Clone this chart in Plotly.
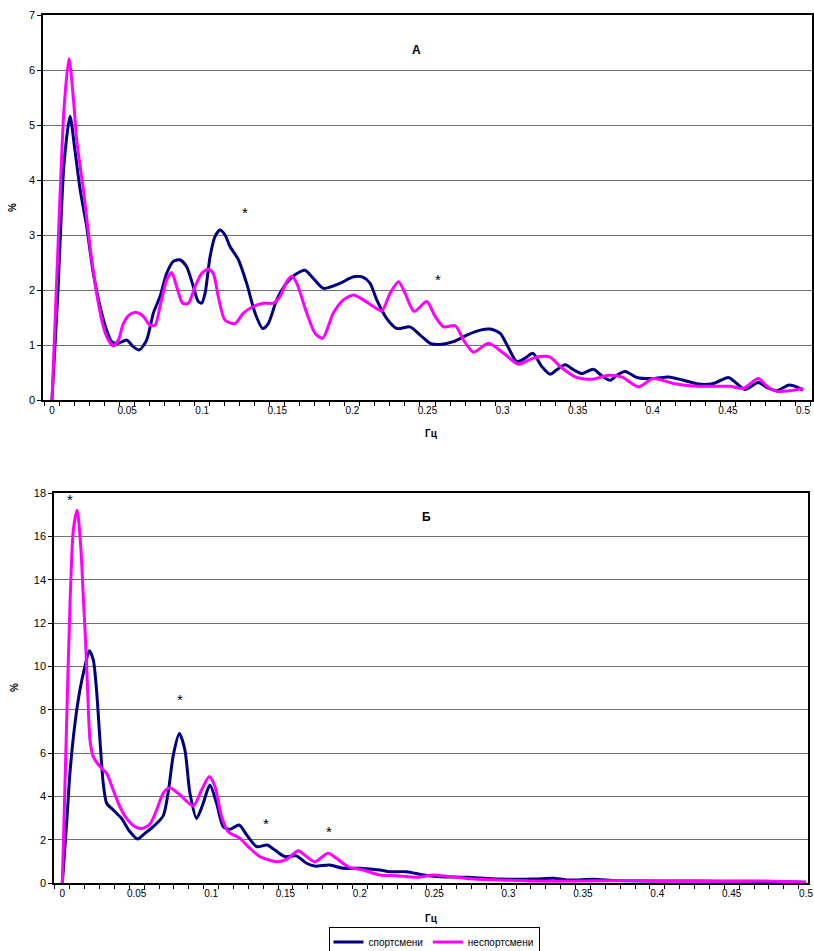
import plotly.graph_objects as go

# ---------------- Panel A data ----------------
a_sport_f = [0, 0.004, 0.008, 0.012, 0.015, 0.0186, 0.0231, 0.0275, 0.032, 0.0364, 0.0397, 0.0442,
             0.0497, 0.0541, 0.0581, 0.063, 0.0675, 0.0719, 0.0763, 0.0808, 0.0852, 0.0897, 0.0941,
             0.0974, 0.0996, 0.1019, 0.1052, 0.1085, 0.1119, 0.1152, 0.1185, 0.1241, 0.1296, 0.1352,
             0.1403, 0.144, 0.1496, 0.156, 0.162, 0.1684, 0.174, 0.1807, 0.1917, 0.2007, 0.2073,
             0.2118, 0.2162, 0.2229, 0.2296, 0.2384, 0.2451, 0.2518, 0.2584, 0.2673, 0.2762, 0.2851,
             0.2917, 0.2984, 0.3039, 0.3094, 0.315, 0.3201, 0.3261, 0.3316, 0.3361, 0.3416, 0.3472,
             0.3527, 0.3605, 0.3661, 0.3716, 0.376, 0.3816, 0.3894, 0.4005, 0.4105, 0.4204, 0.4304,
             0.4404, 0.4504, 0.4559, 0.4614, 0.4703, 0.4759, 0.4826, 0.4903, 0.4959, 0.5]
a_sport_v = [0, 2.0, 4.3, 5.16, 4.6, 3.85, 3.15, 2.3, 1.7, 1.27, 1.06, 1.03,
             1.09, 0.97, 0.91, 1.09, 1.58, 1.88, 2.3, 2.52, 2.55, 2.42, 2.06,
             1.79, 1.76, 1.94, 2.6, 2.97, 3.09, 3.0, 2.79, 2.55, 2.12, 1.58,
             1.3, 1.39, 1.82, 2.12, 2.28, 2.36, 2.21, 2.03, 2.12, 2.24, 2.23,
             2.12, 1.82, 1.48, 1.30, 1.33, 1.18, 1.03, 1.01, 1.06, 1.18, 1.27,
             1.29, 1.21, 0.95, 0.70, 0.76, 0.85, 0.61, 0.47, 0.55, 0.64, 0.55,
             0.48, 0.56, 0.44, 0.36, 0.45, 0.52, 0.41, 0.39, 0.42, 0.36, 0.29,
             0.30, 0.41, 0.30, 0.19, 0.32, 0.23, 0.17, 0.27, 0.24, 0.18]

a_non_f = [0, 0.004, 0.008, 0.0113, 0.0145, 0.0164, 0.0209, 0.0253, 0.0297, 0.0342, 0.0375, 0.0408,
           0.0442, 0.0475, 0.052, 0.0564, 0.0608, 0.0652, 0.0686, 0.0719, 0.0763, 0.0797, 0.083,
           0.087, 0.0908, 0.0952, 0.0996, 0.1041, 0.1074, 0.1107, 0.1152, 0.1218, 0.1274, 0.134,
           0.1407, 0.1474, 0.1518, 0.1562, 0.1596, 0.163, 0.1696, 0.1752, 0.1802, 0.1873, 0.194,
           0.2007, 0.2073, 0.214, 0.2196, 0.2251, 0.2307, 0.2351, 0.2411, 0.2495, 0.2551, 0.2607,
           0.2685, 0.274, 0.2806, 0.2906, 0.3006, 0.3106, 0.3184, 0.325, 0.3316, 0.3383, 0.3493,
           0.3604, 0.3704, 0.3793, 0.3904, 0.4004, 0.4137, 0.4292, 0.4426, 0.4514, 0.4603, 0.4703,
           0.476, 0.4825, 0.4914, 0.5]
a_non_v = [0, 2.8, 5.3, 6.21, 5.4, 4.73, 3.82, 2.79, 1.94, 1.33, 1.09, 0.98,
           1.09, 1.39, 1.56, 1.59, 1.52, 1.36, 1.36, 1.70, 2.18, 2.32, 2.06,
           1.76, 1.76, 2.06, 2.30, 2.38, 2.30, 1.88, 1.45, 1.39, 1.58, 1.70,
           1.76, 1.76, 1.88, 2.15, 2.25, 2.12, 1.58, 1.21, 1.12, 1.58, 1.82,
           1.91, 1.82, 1.70, 1.62, 1.94, 2.15, 1.94, 1.61, 1.79, 1.52, 1.33,
           1.35, 1.09, 0.87, 1.03, 0.85, 0.65, 0.74, 0.79, 0.78, 0.61, 0.41,
           0.38, 0.45, 0.42, 0.24, 0.39, 0.30, 0.25, 0.25, 0.25, 0.21, 0.39,
           0.25, 0.16, 0.17, 0.21]

# ---------------- Panel B data ----------------
b_sport_f = [0, 0.0029, 0.0051, 0.0085, 0.0118, 0.0152, 0.0181, 0.0208, 0.023, 0.0253, 0.0275, 0.0298,
             0.0342, 0.0398, 0.0454, 0.0506, 0.0555, 0.0611, 0.0678, 0.0712, 0.0746, 0.0787, 0.0824,
             0.0858, 0.0903, 0.0947, 0.0992, 0.1037, 0.1082, 0.1126, 0.1189, 0.1239, 0.1306, 0.1377,
             0.1429, 0.1496, 0.1574, 0.1642, 0.1697, 0.1798, 0.1888, 0.2, 0.2134, 0.2201, 0.2314,
             0.2426, 0.2538, 0.2717, 0.2941, 0.3165, 0.33, 0.339, 0.3569, 0.3726, 0.395, 0.4286,
             0.4622, 0.4846, 0.5]
b_sport_v = [0, 2.75, 5.06, 7.37, 8.9, 10.0, 10.72, 10.3, 8.9, 6.6, 4.6, 3.68,
             3.37, 2.98, 2.37, 2.03, 2.29, 2.6, 3.1, 4.2, 5.9, 6.9, 6.14,
             4.14, 2.98, 3.68, 4.52, 3.68, 2.6, 2.48, 2.68, 2.22, 1.68, 1.75,
             1.52, 1.22, 1.25, 0.91, 0.78, 0.83, 0.68, 0.68, 0.6, 0.52, 0.52,
             0.37, 0.29, 0.26, 0.18, 0.18, 0.22, 0.14, 0.17, 0.11, 0.09, 0.09,
             0.08, 0.06, 0.03]

b_non_f = [0, 0.0029, 0.0051, 0.0074, 0.01, 0.0125, 0.0141, 0.0156, 0.017, 0.0186, 0.0208, 0.0253,
           0.0298, 0.0342, 0.0387, 0.0432, 0.0488, 0.0538, 0.0589, 0.0634, 0.0678, 0.0723, 0.0791,
           0.088, 0.0936, 0.0988, 0.1026, 0.1071, 0.1115, 0.1194, 0.1261, 0.1328, 0.144, 0.1507,
           0.1586, 0.1642, 0.1697, 0.1787, 0.1843, 0.1921, 0.2022, 0.2134, 0.2247, 0.2381, 0.2493,
           0.2605, 0.2784, 0.2941, 0.3165, 0.35, 0.3838, 0.406, 0.451, 0.4733, 0.5]
b_non_v = [0, 7.4, 12.75, 16.3, 17.2, 15.4, 13.2, 11.2, 8.9, 6.6, 5.83, 5.37,
           5.06, 4.29, 3.52, 2.98, 2.6, 2.52, 2.72, 3.37, 4.14, 4.4, 4.06,
           3.55, 4.29, 4.91, 4.45, 3.06, 2.37, 2.06, 1.6, 1.22, 0.98, 1.09,
           1.49, 1.22, 0.98, 1.37, 1.14, 0.75, 0.6, 0.37, 0.34, 0.26, 0.37,
           0.29, 0.17, 0.14, 0.09, 0.09, 0.11, 0.08, 0.08, 0.09, 0.03]

x_tick_vals = [0, 0.05, 0.1, 0.15, 0.2, 0.25, 0.3, 0.35, 0.4, 0.45, 0.5]
x_tick_text = ["0", "0.05", "0.1", "0.15", "0.2", "0.25", "0.3", "0.35", "0.4", "0.45", "0.5"]
series_names = ["спортсмени", "неспортсмени"]

# significance marks (freq, value)
a_stars = [(0.1285, 3.45), (0.257, 2.22)]
b_stars = [(0.005, 17.8), (0.079, 8.54), (0.137, 2.86), (0.179, 2.49)]

NAVY = "#000080"
MAGENTA = "#FF00FF"
FONT = "Arial, Liberation Sans, sans-serif"
W, H = 814, 951


def px_x(px):
    return px / W


def px_y(py):
    return 1 - py / H


fig = go.Figure()
fig.add_trace(go.Scatter(x=a_sport_f, y=a_sport_v, mode="lines", name=series_names[0],
                         line=dict(color=NAVY, width=3, shape="spline", smoothing=0.7),
                         xaxis="x", yaxis="y", legendgroup="s"))
fig.add_trace(go.Scatter(x=a_non_f, y=a_non_v, mode="lines", name=series_names[1],
                         line=dict(color=MAGENTA, width=3, shape="spline", smoothing=0.7),
                         xaxis="x", yaxis="y", legendgroup="n"))
fig.add_trace(go.Scatter(x=b_sport_f, y=b_sport_v, mode="lines", name=series_names[0],
                         line=dict(color=NAVY, width=3, shape="spline", smoothing=0.7),
                         xaxis="x2", yaxis="y2", legendgroup="s", showlegend=False))
fig.add_trace(go.Scatter(x=b_non_f, y=b_non_v, mode="lines", name=series_names[1],
                         line=dict(color=MAGENTA, width=3, shape="spline", smoothing=0.7),
                         xaxis="x2", yaxis="y2", legendgroup="n", showlegend=False))


def xaxis_cfg(domain, rng, anchor):
    return dict(domain=domain, range=rng, anchor=anchor, automargin=False,
                tickmode="array", tickvals=x_tick_vals, ticktext=x_tick_text,
                ticks="", showgrid=False, zeroline=False,
                showline=True, linecolor="black", linewidth=1.5, mirror=True,
                tickfont=dict(family=FONT, size=10, color="black"),
                minor=dict(ticks="outside", ticklen=4, tickcolor="black", tickwidth=1,
                           tick0=0.005, dtick=0.01, showgrid=False))


def yaxis_cfg(domain, rng, dtick, anchor):
    return dict(domain=domain, range=rng, anchor=anchor, dtick=dtick, tick0=0, automargin=False,
                ticks="outside", ticklen=4, tickcolor="black",
                showgrid=True, gridcolor="#6f6f6f", gridwidth=1, zeroline=False,
                showline=True, linecolor="black", linewidth=1.5, mirror=True,
                tickfont=dict(family=FONT, size=11, color="black"))


def note(x, y, text, xref, yref, size, **kw):
    d = dict(x=x, y=y, xref=xref, yref=yref, text=text, showarrow=False,
             xanchor="center", yanchor="middle",
             font=dict(family=FONT, size=size, color="black"))
    d.update(kw)
    return d


ann = []
for f, v in a_stars:
    ann.append(note(f, v, "*", "x", "y", 15, yshift=-2))
for f, v in b_stars:
    ann.append(note(f, v, "*", "x2", "y2", 15, yshift=-2))
ann.append(note(0.243, 6.36, "<b>А</b>", "x", "y", 12))
ann.append(note(0.2446, 16.9, "<b>Б</b>", "x2", "y2", 12))
for px, py in [(431, 433), (431, 918)]:
    ann.append(note(px_x(px), px_y(py), "<b>Гц</b>", "paper", "paper", 10))
for px, py in [(13, 208), (14, 688)]:
    ann.append(note(px_x(px), px_y(py), "<b>%</b>", "paper", "paper", 10, textangle=-90))

fig.update_layout(
    width=W, height=H, autosize=False,
    margin=dict(l=0, r=0, t=0, b=0, pad=0, autoexpand=False),
    paper_bgcolor="white", plot_bgcolor="white",
    xaxis=xaxis_cfg([px_x(43), px_x(812)], [-0.006, 0.506], "y"),
    yaxis=yaxis_cfg([px_y(400), px_y(15)], [0, 7], 1, "x"),
    xaxis2=xaxis_cfg([px_x(54), px_x(808)], [-0.0056, 0.5013], "y2"),
    yaxis2=yaxis_cfg([px_y(883), px_y(493)], [0, 18], 2, "x2"),
    annotations=ann,
    showlegend=True,
    legend=dict(orientation="h", x=px_x(434), y=px_y(942), xanchor="center", yanchor="middle",
                bordercolor="black", borderwidth=1, bgcolor="white",
                font=dict(family=FONT, size=10, color="black"),
                itemwidth=30, tracegroupgap=0),
)

fig.write_html("out.html", config={"displayModeBar": False},
               post_script="document.body.style.margin='0';document.body.style.overflow='hidden';")
